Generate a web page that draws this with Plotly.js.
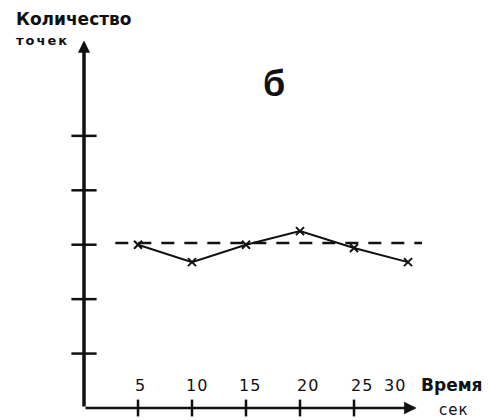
<!DOCTYPE html>
<html><head><meta charset="utf-8">
<script src="https://cdn.plot.ly/plotly-3.0.1.min.js"></script>
<style>html,body{margin:0;padding:0;background:#fff}</style>
</head><body>
<div id="chart" style="width:488px;height:420px"></div>
<script>
const timeSec = [5, 10, 15, 20, 25, 30];
const points = [3.0, 2.68, 3.0, 3.25, 2.94, 2.68];
const meanLevel = 3.03;
const meanX = [2.9, 31.3];
const xTickVals = [5, 10, 15, 20, 25];
const xLabelVals = [5.2, 10.5, 15.4, 20.7, 25.7, 28.8];
const xLabelText = ['5', '10', '15', '20', '25', '30'];
const yTickVals = [1, 2, 3, 4, 5];

const font = 'Liberation Sans, Arial, sans-serif';
const dv = 'DejaVu Sans, sans-serif';
const L = 84, B = 12, PW = 378, PH = 381;
const data = [
  {x: meanX, y: meanX.map(() => meanLevel), mode: 'lines', line: {color: '#111', width: 2.5, dash: '13px,10px'}, hoverinfo: 'skip'},
  {x: timeSec, y: points, mode: 'lines+markers', line: {color: '#111', width: 2},
   marker: {symbol: 'x-thin', size: 8, line: {width: 2, color: '#111'}, color: '#111'}},
  {x: xTickVals, y: xTickVals.map(() => 0), mode: 'markers', cliponaxis: false,
   marker: {symbol: 'line-ns', size: 12, line: {width: 2.5, color: '#111'}}, hoverinfo: 'skip'},
  {x: yTickVals.map(() => 0), y: yTickVals, mode: 'markers', cliponaxis: false,
   marker: {symbol: 'line-ew', size: 18, line: {width: 2.5, color: '#111'}}, hoverinfo: 'skip'}
];
const tickLabelAnns = xLabelVals.map((v, i) => ({
  x: v, y: 0, xref: 'x', yref: 'y', yanchor: 'middle', xanchor: 'center', yshift: 23,
  text: '<span style="letter-spacing:1px">' + xLabelText[i] + '</span>', showarrow: false,
  font: {size: 16, family: dv, color: '#111'}
}));
const layout = {
  width: 488, height: 420, showlegend: false,
  paper_bgcolor: '#fff', plot_bgcolor: '#fff',
  margin: {l: L, r: 488 - L - PW, t: 420 - B - PH, b: B},
  font: {family: font, color: '#111'},
  xaxis: {range: [0, 35], showgrid: false, zeroline: false, showline: false, showticklabels: false, ticks: ''},
  yaxis: {range: [0, 7], showgrid: false, zeroline: false, showline: false, showticklabels: false, ticks: ''},
  annotations: [
    {x: 30.8, y: 0, ax: 0, ay: 0, xref: 'x', yref: 'y', axref: 'x', ayref: 'y', showarrow: true,
     arrowhead: 2, arrowsize: 1, arrowwidth: 2.5, arrowcolor: '#111', text: ''},
    {x: 0, y: 6.75, ax: 0, ay: 0, xref: 'x', yref: 'y', axref: 'x', ayref: 'y', showarrow: true,
     arrowhead: 2, arrowsize: 0.7, arrowwidth: 3.5, arrowcolor: '#111', text: ''},
    {text: '<b>Количество</b>', showarrow: false, font: {size: 17, family: dv}},
    {text: '<span style="letter-spacing:2px"><b>точек</b></span>', showarrow: false, font: {size: 13, family: dv}},
    {text: '<b>б</b>', showarrow: false, font: {size: 36, family: font}},
    {text: '<b>Время</b>', showarrow: false, font: {size: 17, family: dv}},
    {text: '<span style="letter-spacing:1px">сек</span>', showarrow: false, font: {size: 15, family: dv}}
  ].concat(tickLabelAnns)
};
function px(xp, yp) { return {x: (xp - L) / PW, y: (420 - B - yp) / PH}; }
const a = layout.annotations;
Object.assign(a[2], px(14, 19), {xref: 'paper', yref: 'paper', xanchor: 'left', yanchor: 'middle'});
Object.assign(a[3], px(14, 41), {xref: 'paper', yref: 'paper', xanchor: 'left', yanchor: 'middle'});
Object.assign(a[4], px(274, 84), {xref: 'paper', yref: 'paper', xanchor: 'center', yanchor: 'middle'});
Object.assign(a[5], px(419, 385), {xref: 'paper', yref: 'paper', xanchor: 'left', yanchor: 'middle'});
Object.assign(a[6], px(437, 410), {xref: 'paper', yref: 'paper', xanchor: 'left', yanchor: 'middle'});
Plotly.newPlot('chart', data, layout, {staticPlot: true});
</script>
</body></html>
